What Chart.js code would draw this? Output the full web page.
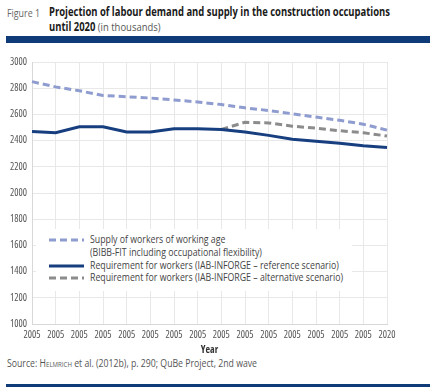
<!DOCTYPE html>
<html>
<head>
<meta charset="utf-8">
<script src="https://cdn.jsdelivr.net/npm/chart.js@4"></script>
<style>
body { margin: 0; width: 430px; height: 392px; background: #fff; font-family: "Open Sans", sans-serif; position: relative; overflow: hidden; }
.fit { display: inline-block; white-space: nowrap; transform-origin: 0 0; }
.fig { position: absolute; left: 7px; top: 5px; font-size: 11px; line-height: 15px; color: #666; }
.title { position: absolute; left: 49px; top: 4px; font-size: 11.5px; line-height: 15px; color: #1a1a1a; }
.title span.unit { color: #555; }
.bar-top { position: absolute; left: 6px; right: 0; top: 36px; height: 7px; background: #0f3c78; }
.bar-bottom { position: absolute; left: 6px; right: 0; top: 384px; height: 3px; background: #0f3c78; }
.wrap { position: absolute; left: 0; top: 50px; width: 430px; height: 306px; }
.source { position: absolute; left: 7px; top: 356px; font-size: 10px; color: #555; }
.source .sc { font-variant: small-caps; }
.legend { position: absolute; left: 36px; top: 229px; width: 316px; height: 62px; background: #fff; font-size: 10px; color: #444; line-height: 12.8px; }
.legend .inner { padding-top: 4px; }
.legend .row { position: relative; padding-left: 54px; }
.legend svg { position: absolute; left: 13px; top: 5px; }
</style>
</head>
<body>
<div class="fig"><span class="fit" id="figLabel">Figure 1</span></div>
<div class="title"><span class="fit" id="titleText"><b>Projection of labour demand and supply in the construction occupations<br>until 2020</b> <span class="unit">(in thousands)</span></span></div>
<div class="bar-top"></div>
<div class="wrap"><canvas id="chart"></canvas></div>
<div class="legend"><div class="inner" id="legend"></div></div>
<div class="source"><span class="fit" id="sourceText">Source: <span class="sc">Helmrich</span> et al. (2012b), p. 290; QuBe Project, 2nd wave</span></div>
<div class="bar-bottom"></div>
<script>
// years as printed on the original axis
const years = ['2005', '2005', '2005', '2005', '2005', '2005', '2005', '2005',
    '2005', '2005', '2005', '2005', '2005', '2005', '2005', '2020'];

const supply = [2850, 2810, 2780, 2745, 2735, 2725, 2710, 2695,
    2675, 2650, 2630, 2605, 2580, 2555, 2525, 2480];
const requirementRef = [2470, 2460, 2505, 2505, 2465, 2465, 2490, 2490,
    2485, 2465, 2440, 2410, 2395, 2380, 2360, 2348];
const requirementAlt = [null, null, null, null, null, null, null, null,
    2485, 2540, 2535, 2510, 2495, 2475, 2460, 2435];

const yTicks = { min: 1000, max: 3000, step: 200 };

const seriesLabels = [
    ['Supply of workers of working age', '(BIBB-FIT including occupational flexibility)'],
    ['Requirement for workers (IAB-INFORGE \u2013 reference scenario)'],
    ['Requirement for workers (IAB-INFORGE \u2013 alternative scenario)']
];

const tickFont = { family: '"Open Sans", sans-serif', size: 10 };

const datasets = [
    { data: supply, borderColor: '#8f9ccf', borderDash: [7, 4] },
    { data: requirementRef, borderColor: '#173f80', borderDash: [] },
    { data: requirementAlt, borderColor: '#8c8c8c', borderDash: [7, 4] }
].map((d, i) => ({
    label: seriesLabels[i].join(' '),
    data: d.data,
    borderColor: d.borderColor,
    borderDash: d.borderDash,
    borderWidth: 3,
    pointRadius: 0,
    tension: 0,
    fill: false,
    spanGaps: false
}));

// legend built from the datasets
const legend = document.getElementById('legend');
datasets.forEach((ds, i) => {
    const row = document.createElement('div');
    row.className = 'row';
    const dash = ds.borderDash.length ? ds.borderDash.join(' ') : 'none';
    row.innerHTML = `<svg width="35" height="4"><line x1="0" y1="2" x2="35" y2="2" stroke="${ds.borderColor}" stroke-width="3" stroke-dasharray="${dash}"/></svg>` +
        `<span class="fit lt">${seriesLabels[i].join('<br>')}</span>`;
    legend.appendChild(row);
});

// the original uses a narrow face, squeeze the html text to its widths
const squeeze = () => {
    const fitTo = (el, target) => {
        el.style.transform = '';
        el.style.transform = `scaleX(${target / el.getBoundingClientRect().width})`;
    };
    fitTo(document.getElementById('figLabel'), 33);
    fitTo(document.getElementById('titleText'), 341);
    fitTo(document.getElementById('sourceText'), 250);
    const spans = document.querySelectorAll('.lt');
    spans.forEach(s => { s.style.transform = ''; });
    const k = 253 / spans[2].getBoundingClientRect().width;
    spans.forEach(s => { s.style.transform = `scaleX(${k})`; });
};
squeeze();
document.fonts.ready.then(squeeze);

// narrow tick text: keep a condensed stretch every time chart.js sets the font
const ctx = document.getElementById('chart').getContext('2d');
const fontProp = Object.getOwnPropertyDescriptor(CanvasRenderingContext2D.prototype, 'font');
Object.defineProperty(ctx, 'font', {
    get() { return fontProp.get.call(this); },
    set(v) { fontProp.set.call(this, v); if ('fontStretch' in this) this.fontStretch = 'condensed'; }
});

new Chart(ctx, {
    type: 'line',
    data: { labels: years, datasets: datasets },
    options: {
        responsive: true,
        maintainAspectRatio: false,
        animation: false,
        layout: { padding: { top: 12, right: 43, left: 0, bottom: 0 } },
        plugins: { legend: { display: false }, tooltip: { enabled: false } },
        scales: {
            x: {
                grid: { color: '#e8e8e8', drawTicks: false },
                border: { color: '#d8d8d8' },
                ticks: {
                    autoSkip: false, maxRotation: 0, minRotation: 0,
                    color: '#555', padding: 5,
                    font: tickFont
                },
                title: {
                    display: true, text: 'Year', color: '#333', padding: { top: 0, bottom: 0 },
                    font: Object.assign({}, tickFont, { weight: 'bold' })
                },
                afterFit: (scale) => { scale.height = 32; }
            },
            y: {
                min: yTicks.min,
                max: yTicks.max,
                grid: { color: '#e8e8e8', drawTicks: false },
                border: { color: '#d8d8d8' },
                ticks: {
                    stepSize: yTicks.step,
                    color: '#555', padding: 5,
                    font: tickFont,
                    callback: (v) => String(v)
                },
                afterFit: (scale) => { scale.width = 32; }
            }
        }
    }
});
</script>
</body>
</html>
